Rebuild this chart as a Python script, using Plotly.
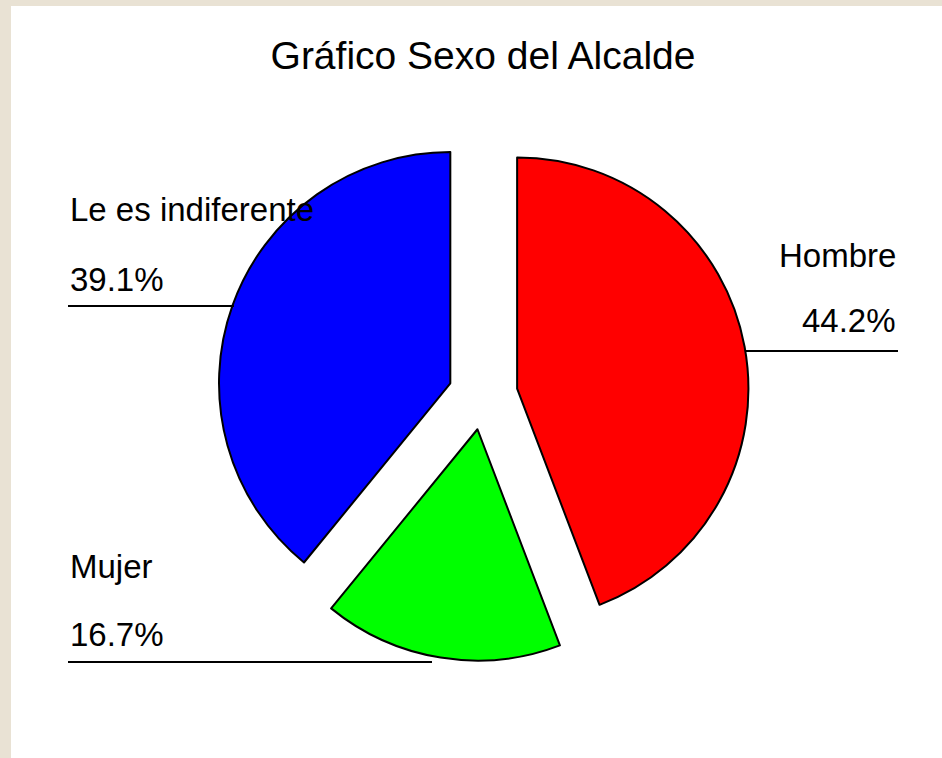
import plotly.graph_objects as go

W, H = 942, 758

# data
categorias = ["Hombre", "Mujer", "Le es indiferente"]
porcentajes = [44.2, 16.7, 39.1]
colores = ["#ff0000", "#00ff00", "#0000ff"]


def px(x):
    return x / W


def py(y):
    return 1 - y / H


fig = go.Figure()

fig.add_trace(go.Pie(
    labels=categorias,
    values=porcentajes,
    sort=False,
    direction="clockwise",
    rotation=0,
    pull=[0.15, 0.15, 0.15],
    marker=dict(colors=colores, line=dict(color="black", width=2)),
    textinfo="none",
    hoverinfo="label+percent",
    showlegend=False,
    domain=dict(x=[px(483 - 266), px(483 + 266)], y=[py(395 + 266), py(395 - 266)]),
))

# label positions (pixel coords in the picture)
etiquetas = {
    "Hombre": dict(x=898, y_nom=255, y_pct=321, anchor="right", line=(746, 898, 351)),
    "Mujer": dict(x=68, y_nom=566, y_pct=634, anchor="left", line=(68, 432, 662)),
    "Le es indiferente": dict(x=68, y_nom=209, y_pct=279, anchor="left", line=(68, 234, 306)),
}

annotations = []
shapes = [
    # white panel over the beige background
    dict(type="rect", xref="paper", yref="paper", layer="below",
         x0=px(11), x1=1, y0=0, y1=py(6),
         fillcolor="white", line=dict(width=0)),
]

for cat, val in zip(categorias, porcentajes):
    e = etiquetas[cat]
    for texto, yy in [(cat, e["y_nom"]), (f"{val:.1f}%", e["y_pct"])]:
        annotations.append(dict(
            x=px(e["x"]), y=py(yy), xref="paper", yref="paper",
            text=texto, showarrow=False,
            xanchor=e["anchor"], yanchor="middle",
            font=dict(family="Liberation Sans, Arial", size=33, color="black"),
        ))
    x0, x1, yl = e["line"]
    shapes.append(dict(type="line", xref="paper", yref="paper",
                       x0=px(x0), x1=px(x1), y0=py(yl), y1=py(yl),
                       line=dict(color="black", width=2)))

fig.update_layout(
    width=W, height=H,
    margin=dict(l=0, r=0, t=0, b=0),
    paper_bgcolor="#e9e2d4",
    plot_bgcolor="white",
    title=dict(text="Gráfico Sexo del Alcalde", x=px(483), y=py(55),
               xanchor="center", yanchor="middle",
               font=dict(family="Liberation Sans, Arial", size=39, color="black")),
    annotations=annotations,
    shapes=shapes,
)

fig.write_html("out.html", config={"displayModeBar": False},
               post_script="document.body.style.margin='0';")
